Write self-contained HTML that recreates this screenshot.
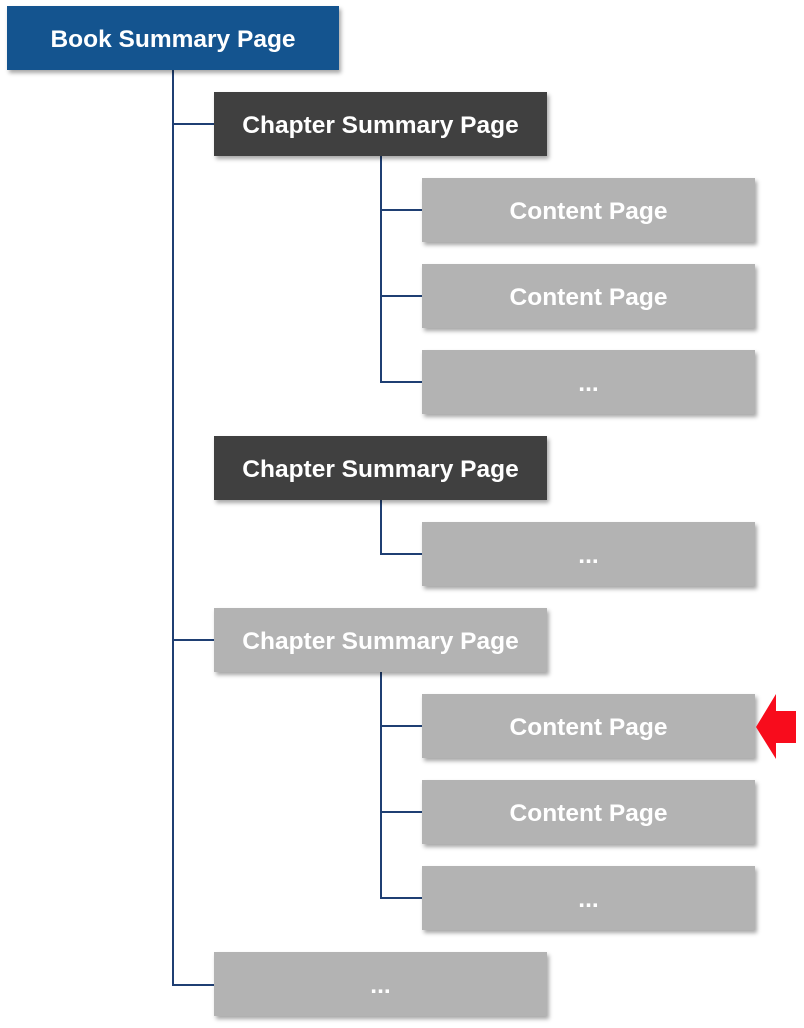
<!DOCTYPE html>
<html><head><style>
body{margin:0;width:804px;height:1028px;background:#fff;position:relative;overflow:hidden;font-family:"Liberation Sans",sans-serif}
.b{position:absolute;height:64px;box-sizing:border-box;padding-top:3px;display:flex;align-items:center;justify-content:center;color:#fff;font-weight:bold;font-size:24.5px;box-shadow:2px 3px 4px rgba(0,0,0,.35)}
.blue{background:#14548f}.dark{background:#404040}.gray{background:#b3b3b3}
.l{position:absolute;background:#1f3f73}
</style></head><body>
<div class="l" style="left:172px;top:70px;width:2px;height:916px"></div>
<div class="l" style="left:172px;top:123px;width:42px;height:2px"></div>
<div class="l" style="left:172px;top:639px;width:42px;height:2px"></div>
<div class="l" style="left:172px;top:984px;width:42px;height:2px"></div>
<div class="l" style="left:380px;top:156px;width:2px;height:227px"></div>
<div class="l" style="left:380px;top:209px;width:42px;height:2px"></div>
<div class="l" style="left:380px;top:295px;width:42px;height:2px"></div>
<div class="l" style="left:380px;top:381px;width:42px;height:2px"></div>
<div class="l" style="left:380px;top:500px;width:2px;height:55px"></div>
<div class="l" style="left:380px;top:553px;width:42px;height:2px"></div>
<div class="l" style="left:380px;top:672px;width:2px;height:227px"></div>
<div class="l" style="left:380px;top:725px;width:42px;height:2px"></div>
<div class="l" style="left:380px;top:811px;width:42px;height:2px"></div>
<div class="l" style="left:380px;top:897px;width:42px;height:2px"></div>

<div class="b blue" style="left:7px;top:6px;width:332px">Book Summary Page</div>
<div class="b dark" style="left:214px;top:92px;width:333px">Chapter Summary Page</div>
<div class="b gray" style="left:422px;top:178px;width:333px">Content Page</div>
<div class="b gray" style="left:422px;top:264px;width:333px">Content Page</div>
<div class="b gray" style="left:422px;top:350px;width:333px">...</div>
<div class="b dark" style="left:214px;top:436px;width:333px">Chapter Summary Page</div>
<div class="b gray" style="left:422px;top:522px;width:333px">...</div>
<div class="b gray" style="left:214px;top:608px;width:333px">Chapter Summary Page</div>
<div class="b gray" style="left:422px;top:694px;width:333px">Content Page</div>
<div class="b gray" style="left:422px;top:780px;width:333px">Content Page</div>
<div class="b gray" style="left:422px;top:866px;width:333px">...</div>
<div class="b gray" style="left:214px;top:952px;width:333px">...</div>

<svg style="position:absolute;left:0;top:0" width="804" height="1028">
<polygon points="756,727 776,694 776,711 796,711 796,743 776,743 776,759" fill="#f80c1c"/>
</svg>
</body></html>
